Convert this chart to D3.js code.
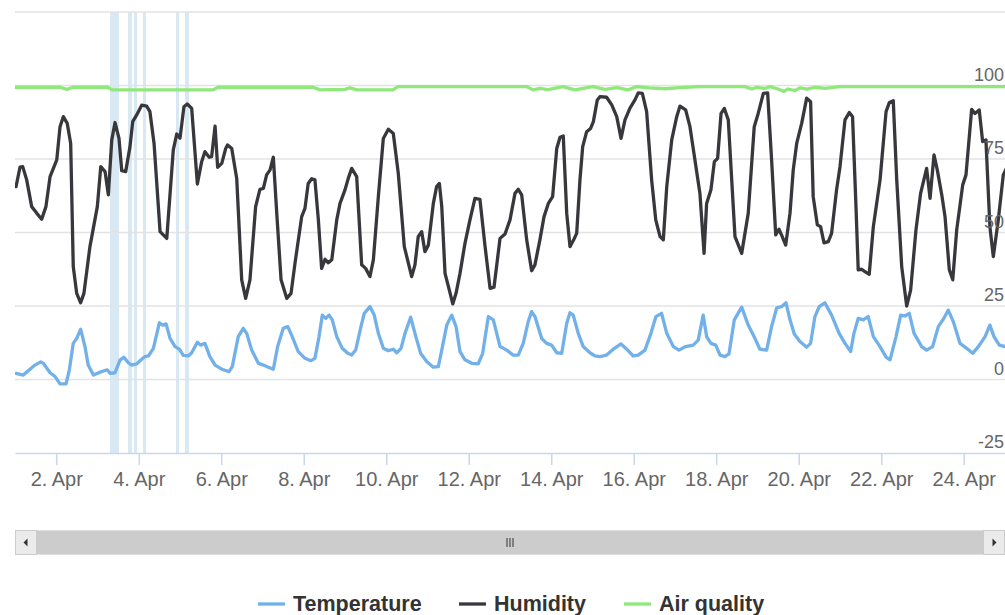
<!DOCTYPE html>
<html><head><meta charset="utf-8">
<script src="https://cdn.jsdelivr.net/npm/d3@7"></script>
<style>
html,body{margin:0;padding:0;background:#fff;}
svg{display:block;font-family:"Liberation Sans",Arial,Helvetica,sans-serif;}
</style></head>
<body>
<svg id="chart" width="1005" height="615"></svg>
<script>
// ---- data: [hours since 1 Apr 00:00 UTC, value] ----
const seriesNames = ["Temperature", "Humidity", "Air quality"];
const seriesColors = ["#72b0ea", "#38383c", "#8ee87a"];
const yTicks = [-25, 0, 25, 50, 75, 100, 125];
const xTickDays = [2,4,6,8,10,12,14,16,18,20,22,24];
const plotBands = [[55.3,60.5],[65.7,68.1],[69.2,71.0],[74.5,76.2],[93.7,95.4],[98.9,101.2]];

const temperature = [[0.6,2.1],[4.8,1.5],[7.7,3.0],[11.6,4.9],[15.0,6.0],[16.5,5.5],[20.4,2.3],[23.3,1.0],[26.2,-1.5],[29.7,-1.5],[31.6,3.2],[33.9,12.3],[35.9,14.0],[38.2,17.1],[40.7,11.2],[42.6,4.9],[45.6,1.5],[49.5,2.5],[53.7,3.3],[55.3,2.1],[58.2,2.3],[61.1,6.6],[63.4,7.6],[65.9,5.7],[67.9,4.9],[70.8,5.3],[73.7,6.9],[75.6,7.8],[77.6,8.0],[80.5,10.6],[84.0,19.3],[85.9,18.5],[87.9,18.9],[90.2,14.0],[93.1,11.2],[95.6,10.3],[97.9,8.2],[100.8,8.0],[102.8,9.1],[106.1,12.7],[108.0,11.7],[110.5,12.3],[113.4,7.8],[116.4,4.9],[120.3,3.5],[124.5,2.7],[126.4,4.4],[129.9,14.6],[132.8,17.4],[134.8,15.7],[137.7,10.0],[141.6,5.5],[144.5,4.9],[147.4,4.2],[150.3,3.5],[152.8,11.2],[156.1,17.4],[158.7,18.0],[161.3,14.6],[164.8,9.5],[168.7,7.2],[172.2,6.4],[174.5,7.2],[176.9,14.6],[178.8,21.9],[180.8,20.8],[182.7,21.9],[184.6,20.3],[187.2,14.6],[190.4,10.6],[193.6,8.9],[195.9,8.3],[198.2,10.0],[201.3,18.0],[203.2,22.5],[206.5,24.8],[209.0,21.9],[211.4,15.7],[214.3,10.6],[217.2,9.8],[220.1,10.3],[222.1,9.1],[224.6,10.6],[226.9,15.7],[230.2,21.2],[232.7,15.7],[236.0,8.9],[239.5,6.1],[243.4,4.2],[246.3,4.4],[248.3,10.0],[251.2,18.5],[254.1,21.9],[256.6,18.0],[258.9,9.5],[261.8,6.7],[265.7,5.5],[269.5,5.3],[272.1,8.9],[275.4,21.4],[278.3,20.3],[282.2,11.2],[286.1,10.0],[289.9,8.3],[292.8,8.3],[295.7,12.3],[298.6,19.7],[300.6,23.1],[302.5,21.4],[306.4,14.0],[309.3,12.3],[312.2,11.7],[315.2,9.1],[318.1,8.9],[321.0,19.1],[322.9,22.7],[324.8,21.9],[327.7,15.7],[330.6,11.2],[334.5,9.1],[337.4,8.0],[340.3,7.8],[344.2,8.3],[348.1,10.3],[352.6,12.1],[355.9,10.3],[359.7,8.0],[362.6,8.3],[366.5,10.0],[370.0,15.7],[372.9,21.4],[376.2,22.5],[379.2,15.7],[383.0,11.2],[386.3,10.0],[390.2,11.2],[394.6,11.7],[397.5,13.4],[400.4,21.9],[402.4,14.6],[404.9,12.3],[407.7,11.7],[410.2,8.3],[413.1,7.8],[415.4,8.7],[418.5,20.3],[422.8,24.6],[426.6,18.5],[430.5,14.0],[433.4,10.3],[437.3,10.0],[440.2,18.0],[443.2,24.4],[446.1,24.8],[448.6,26.1],[450.9,20.3],[453.4,15.5],[456.7,12.9],[460.6,11.0],[462.9,12.3],[465.4,21.4],[467.9,24.8],[471.2,26.1],[475.1,21.9],[479.5,15.7],[482.9,12.3],[486.2,9.5],[488.1,15.7],[490.6,20.8],[493.5,20.3],[496.4,21.4],[499.4,14.6],[503.3,11.2],[506.8,7.6],[509.1,6.7],[512.6,14.6],[515.3,21.9],[517.8,21.6],[520.3,22.5],[523.1,15.7],[527.5,11.2],[530.4,10.0],[533.9,11.2],[537.2,18.0],[540.1,20.5],[543.0,23.6],[545.9,19.7],[549.8,12.3],[553.7,10.6],[557.2,8.9],[560.5,11.2],[564.4,14.6],[567.2,18.5],[569.6,14.6],[572.7,11.7],[576.0,11.2]];

const humidity = [[0.6,65.6],[2.9,72.2],[4.5,72.4],[6.8,67.9],[9.7,58.8],[12.6,56.6],[15.5,54.5],[18.0,58.8],[20.4,69.0],[24.3,74.7],[26.2,86.0],[28.1,89.4],[30.4,87.1],[32.4,80.3],[33.9,38.4],[35.9,29.3],[38.2,26.1],[40.1,29.3],[43.6,45.2],[47.9,58.8],[49.9,72.4],[52.4,70.7],[54.3,62.8],[56.3,81.5],[58.2,87.4],[60.5,82.0],[62.1,71.0],[64.4,70.7],[66.9,79.2],[68.5,87.7],[70.8,90.0],[73.7,93.3],[76.6,93.0],[78.5,91.1],[80.9,80.3],[84.4,50.3],[88.3,48.0],[92.1,78.1],[94.1,83.5],[96.0,82.1],[98.3,92.8],[100.2,93.7],[102.8,92.2],[106.1,66.5],[108.6,74.1],[110.5,77.5],[113.0,75.6],[114.4,75.8],[116.4,86.2],[117.9,72.2],[120.3,73.5],[122.6,78.6],[123.7,79.8],[126.1,78.6],[129.0,68.4],[131.9,33.9],[134.2,27.6],[136.7,33.9],[140.0,58.8],[142.5,64.7],[144.5,65.0],[146.4,69.6],[148.4,71.3],[150.3,75.6],[152.3,56.5],[154.8,33.9],[158.1,27.6],[160.6,29.3],[162.9,39.5],[166.8,55.4],[168.7,58.2],[170.6,66.7],[172.6,68.3],[174.5,67.9],[176.5,54.3],[178.4,37.8],[180.4,40.9],[182.3,39.7],[184.3,40.7],[187.2,54.3],[189.1,59.9],[192.0,64.5],[193.9,68.4],[195.9,71.8],[198.8,69.0],[201.7,39.0],[204.0,37.8],[206.5,35.0],[208.5,40.7],[211.4,62.2],[214.3,82.0],[217.2,85.1],[220.1,83.7],[223.0,70.1],[226.5,45.2],[230.8,35.0],[232.7,39.0],[234.6,48.6],[236.6,50.3],[238.5,43.5],[240.5,45.7],[243.4,59.9],[245.3,65.6],[246.9,66.7],[248.3,58.8],[250.2,36.1],[252.7,30.4],[254.7,25.7],[256.6,29.3],[258.9,36.1],[261.8,46.3],[264.7,54.3],[267.6,61.6],[270.5,61.3],[273.5,45.2],[276.4,31.0],[278.7,31.4],[282.2,48.0],[285.1,49.5],[288.0,54.3],[290.9,63.3],[292.8,64.7],[294.8,62.8],[297.7,47.5],[300.6,37.0],[302.5,39.0],[305.4,47.5],[307.8,55.4],[310.3,59.9],[312.8,62.2],[315.2,78.6],[317.1,82.4],[319.0,82.8],[321.0,56.5],[322.9,45.2],[325.2,47.7],[326.8,49.7],[328.7,67.9],[330.3,79.2],[332.6,84.3],[334.9,85.4],[336.5,87.7],[338.8,95.1],[340.3,96.2],[344.2,96.0],[347.2,93.4],[350.1,89.4],[352.6,82.0],[354.9,88.3],[357.8,92.3],[360.7,95.1],[362.6,97.5],[365.0,97.3],[367.5,91.1],[370.4,67.9],[372.8,54.3],[375.3,48.6],[377.2,47.5],[379.2,65.6],[382.1,81.5],[385.0,89.4],[386.9,93.0],[390.2,91.7],[392.7,86.0],[395.6,74.7],[398.5,63.3],[400.9,42.9],[402.4,59.9],[404.9,64.5],[406.9,74.1],[408.8,75.2],[410.8,90.5],[412.7,92.2],[415.0,88.3],[417.0,67.9],[418.9,48.6],[422.8,42.9],[426.6,56.5],[430.1,86.0],[432.4,90.5],[435.4,97.3],[437.9,97.5],[440.2,74.7],[442.6,49.2],[444.5,51.1],[446.4,48.6],[448.4,45.7],[450.9,56.5],[452.8,71.3],[454.8,80.3],[457.7,87.1],[460.6,95.7],[462.9,94.5],[464.4,62.2],[466.8,52.6],[468.7,52.0],[470.7,46.5],[473.2,46.9],[475.1,49.7],[478.0,64.5],[480.0,72.4],[482.9,88.3],[485.4,90.8],[487.3,89.4],[489.3,58.8],[490.6,37.3],[492.6,37.5],[494.5,36.7],[497.0,35.8],[499.4,52.0],[503.3,67.9],[506.8,91.1],[508.7,94.2],[511.0,94.8],[513.0,67.9],[515.9,38.4],[518.8,25.0],[521.1,30.4],[524.2,50.9],[526.9,63.3],[530.4,71.8],[532.4,61.6],[534.7,76.4],[536.6,71.3],[539.2,62.8],[541.1,55.4],[543.6,37.3],[545.6,33.9],[547.9,50.9],[551.4,66.2],[553.3,69.6],[556.6,91.9],[558.5,90.5],[561.0,91.7],[563.0,80.9],[564.9,81.5],[567.2,52.0],[569.2,41.8],[572.1,54.3],[575.0,69.6],[577.0,72.0]];

const airQuality = [[0,99.4],[26.2,99.4],[30.3,98.7],[33.7,99.4],[54.1,99.4],[56.4,98.5],[115.2,98.5],[118.1,99.4],[173.4,99.4],[177.4,98.5],[192.0,98.7],[194.9,99.2],[199.0,98.5],[219.9,98.5],[222.8,99.6],[297.9,99.6],[301.4,98.5],[305.4,99.0],[310.1,98.6],[318.8,99.6],[325.8,98.5],[336.3,99.6],[343.3,98.7],[350.3,99.3],[356.7,98.5],[361.5,99.6],[369.1,99.2],[378.2,98.9],[386.9,99.3],[398.5,99.6],[424.7,99.6],[428.8,98.8],[431.7,99.4],[436.3,99.0],[439.2,99.6],[443.9,98.8],[447.4,98.0],[449.7,98.8],[453.8,98.3],[456.7,99.2],[460.8,98.8],[465.4,99.4],[471.3,99.0],[480.0,99.6],[577,99.6]];

// ---- layout ----
const W = 1005, H = 615;
const plot = {left: 15, right: 1005, top: 12, bottom: 453};
const t0 = Date.UTC(2017, 3, 1);
const hr = h => new Date(t0 + h * 3600000);

const svg = d3.select("#chart");
const x = d3.scaleUtc().domain([hr(0), hr(576)]).range([plot.left, plot.right]);
const y = d3.scaleLinear().domain([-25, 125]).range([plot.bottom, plot.top]);

svg.append("defs").append("clipPath").attr("id", "clip")
  .append("rect").attr("x", plot.left).attr("y", plot.top - 5)
  .attr("width", plot.right - plot.left).attr("height", plot.bottom - plot.top + 5);

// plot bands
svg.append("g").selectAll("rect").data(plotBands).join("rect")
  .attr("x", d => x(hr(d[0]))).attr("width", d => x(hr(d[1])) - x(hr(d[0])))
  .attr("y", plot.top).attr("height", plot.bottom - plot.top)
  .attr("fill", "#d8e9f4");

// gridlines
svg.append("g").selectAll("line").data(yTicks.filter(v => v > -25)).join("line")
  .attr("x1", plot.left).attr("x2", plot.right)
  .attr("y1", d => y(d)).attr("y2", d => y(d))
  .attr("stroke", "#e3e3e3").attr("stroke-width", 1.5);

// x axis
const xAxis = d3.axisBottom(x)
  .tickValues(xTickDays.map(d => new Date(Date.UTC(2017, 3, d))))
  .tickFormat(d3.utcFormat("%-d. %b"))
  .tickSize(12).tickPadding(7).tickSizeOuter(0);
const gx = svg.append("g").attr("transform", `translate(0,${plot.bottom})`).call(xAxis);
gx.select(".domain").attr("stroke", "#ccd6eb").attr("stroke-width", 1.5);
gx.selectAll(".tick line").attr("stroke", "#ccd6eb").attr("stroke-width", 1.5);
gx.selectAll(".tick text").attr("fill", "#666").attr("font-size", 20)
  .attr("font-family", "Liberation Sans, Arial, sans-serif");

// series
const line = d3.line().x(d => x(hr(d[0]))).y(d => y(d[1])).curve(d3.curveLinear);
const allSeries = [temperature, humidity, airQuality];
const gs = svg.append("g").attr("clip-path", "url(#clip)");
[2, 1, 0].forEach(i => {
  gs.append("path").datum(allSeries[i]).attr("d", line)
    .attr("fill", "none").attr("stroke", seriesColors[i])
    .attr("stroke-width", 3.3).attr("stroke-linejoin", "round").attr("stroke-linecap", "round");
});

// y axis labels (right, above gridlines)
const yAxis = d3.axisRight(y).tickValues(yTicks.filter(v => v < 125)).tickSize(0).tickFormat(d => String(d));
const gy = svg.append("g").attr("transform", `translate(${plot.right - 1},0)`).call(yAxis);
gy.select(".domain").remove();
gy.selectAll(".tick text").attr("fill", "#666").attr("font-size", 18)
  .attr("text-anchor", "end").attr("x", 0).attr("dy", "-0.3em")
  .attr("font-family", "Liberation Sans, Arial, sans-serif");

// scrollbar
const sb = {y: 530, h: 25, btn: 22};
const gsb = svg.append("g");
gsb.append("rect").attr("x", plot.left).attr("y", sb.y).attr("width", plot.right - plot.left).attr("height", sb.h)
  .attr("fill", "#f2f2f2");
gsb.append("rect").attr("x", plot.left + sb.btn).attr("y", sb.y + 0.5).attr("width", plot.right - plot.left - 2 * sb.btn).attr("height", sb.h - 1)
  .attr("fill", "#cccccc");
[plot.left, plot.right - sb.btn].forEach((bx, i) => {
  gsb.append("rect").attr("x", bx + 0.5).attr("y", sb.y + 0.5).attr("width", sb.btn - 1).attr("height", sb.h - 1)
    .attr("fill", "#ebebeb").attr("stroke", "#cccccc").attr("stroke-width", 1);
  const cx = bx + sb.btn / 2, cy = sb.y + sb.h / 2;
  const pts = i === 0 ? [[cx + 1.5, cy - 4], [cx + 1.5, cy + 4], [cx - 2.5, cy]] : [[cx - 1.5, cy - 4], [cx - 1.5, cy + 4], [cx + 2.5, cy]];
  gsb.append("path").attr("d", d3.line()(pts) + "Z").attr("fill", "#333");
});
const gripX = (plot.left + plot.right) / 2;
[-3, 0, 3].forEach(o => {
  gsb.append("line").attr("x1", gripX + o).attr("x2", gripX + o).attr("y1", sb.y + 8).attr("y2", sb.y + 17)
    .attr("stroke", "#333").attr("stroke-width", 1);
});

// legend
const legendX = [258, 459, 624];
const gl = svg.append("g").attr("font-family", "Liberation Sans, Arial, sans-serif");
seriesNames.forEach((name, i) => {
  gl.append("line").attr("x1", legendX[i]).attr("x2", legendX[i] + 27).attr("y1", 604).attr("y2", 604)
    .attr("stroke", seriesColors[i]).attr("stroke-width", 3.3);
  gl.append("text").attr("x", legendX[i] + 35).attr("y", 611).text(name)
    .attr("font-size", 21.5).attr("font-weight", "bold").attr("fill", "#333");
});
</script>
</body></html>
